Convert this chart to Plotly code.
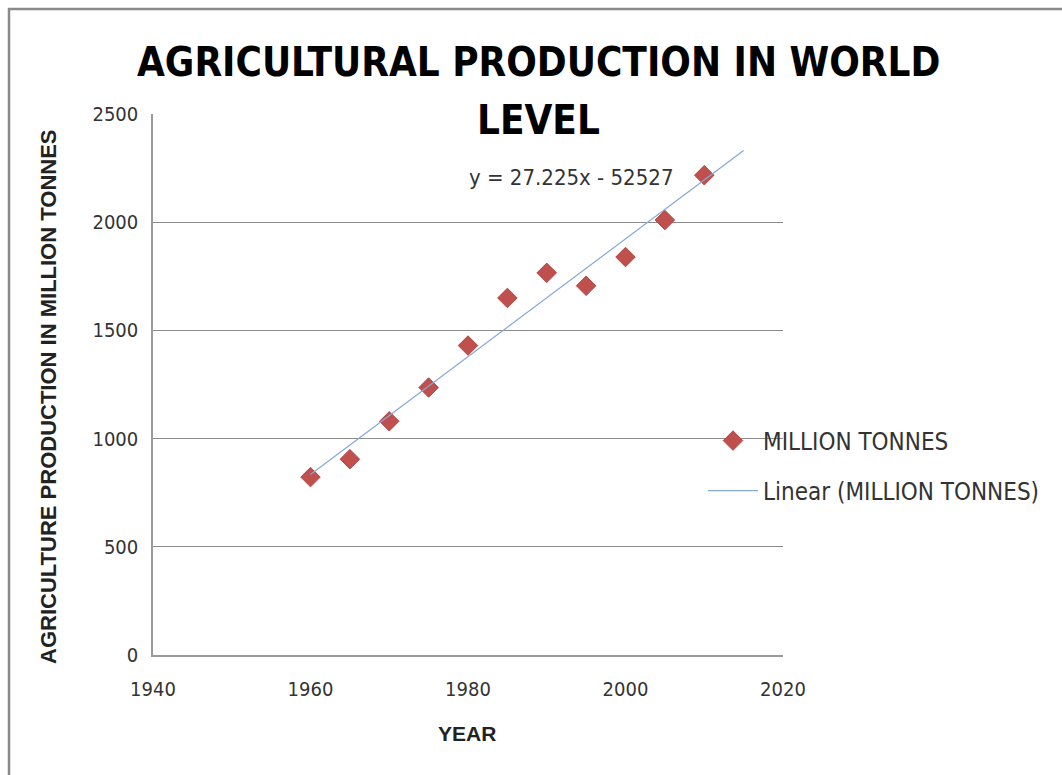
import plotly.graph_objects as go

# ---- data ----
years = [1960, 1965, 1970, 1975, 1980, 1985, 1990, 1995, 2000, 2005, 2010]
million_tonnes = [822, 905, 1080, 1236, 1430, 1650, 1766, 1706, 1839, 2010, 2217]

trend_slope = 27.225
trend_intercept = -52527
trend_years = [1960, 2015]
trend_values = [trend_slope * x + trend_intercept for x in trend_years]

x_ticks = [1940, 1960, 1980, 2000, 2020]
y_ticks = [0, 500, 1000, 1500, 2000, 2500]

title_lines = ["AGRICULTURAL PRODUCTION IN WORLD", "LEVEL"]
equation_text = "y = 27.225x - 52527"

NARROW = "DejaVu Sans Condensed, Liberation Sans Narrow, sans-serif"
WIDE = "Liberation Sans, Arial, sans-serif"

# pixel helpers for placing annotations (plot area 153..783 x, 114..655 y)
PL, PR, PT, PB = 153, 783, 114, 655
def px(x):
    return (x - PL) / (PR - PL)
def py(y):
    return (PB - y) / (PB - PT)

fig = go.Figure()

fig.add_trace(go.Scatter(
    x=years, y=million_tonnes, mode="markers", name="MILLION TONNES",
    marker=dict(symbol="diamond", size=15, color="#C0504D",
                line=dict(color="#B04643", width=1)),
    legend="legend",
))
fig.add_trace(go.Scatter(
    x=trend_years, y=trend_values, mode="lines", name="Linear (MILLION TONNES)",
    line=dict(color="#86A9D6", width=1.2),
    legend="legend2",
))

fig.update_layout(
    width=1062, height=775,
    margin=dict(l=PL, r=1062 - PR, t=PT, b=775 - PB),
    paper_bgcolor="white", plot_bgcolor="white",
    xaxis=dict(range=[1940, 2020], tickvals=x_ticks, showgrid=False,
               showline=True, linecolor="#9a9a9a", linewidth=1.5,
               ticks="", zeroline=False, ticklabelstandoff=15,
               tickfont=dict(family=NARROW, size=20, color="#333333")),
    yaxis=dict(range=[0, 2500], tickvals=y_ticks, showgrid=True,
               gridcolor="#8c8c8c", gridwidth=1,
               showline=True, linecolor="#9a9a9a", linewidth=1.5,
               ticks="", zeroline=False, ticklabelstandoff=9,
               tickfont=dict(family=NARROW, size=20, color="#333333")),
    legend=dict(x=px(703), xanchor="left", y=py(441), yanchor="middle",
                bgcolor="rgba(0,0,0,0)", borderwidth=0, itemwidth=50,
                font=dict(family=NARROW, size=24, color="#333333")),
    legend2=dict(x=px(703), xanchor="left", y=py(491), yanchor="middle",
                 bgcolor="rgba(0,0,0,0)", borderwidth=0, itemwidth=50,
                 font=dict(family=NARROW, size=24, color="#333333")),
    showlegend=True,
)

# title, two lines as in the reference
for txt, yc in zip(title_lines, [62, 120]):
    fig.add_annotation(text=txt, xref="paper", yref="paper", x=px(538), y=py(yc),
                       showarrow=False, xanchor="center", yanchor="middle",
                       font=dict(family=NARROW, size=40, color="#000000", weight="bold"))

# axis titles
fig.add_annotation(text="AGRICULTURE PRODUCTION IN MILLION TONNES", textangle=-90,
                   xref="paper", yref="paper", x=px(48), y=py(397),
                   showarrow=False, xanchor="center", yanchor="middle",
                   font=dict(family=WIDE, size=22, color="#222222", weight="bold"))
fig.add_annotation(text="YEAR", xref="paper", yref="paper", x=px(467), y=py(733),
                   showarrow=False, xanchor="center", yanchor="middle",
                   font=dict(family=WIDE, size=21, color="#222222", weight="bold"))

# trendline equation label
fig.add_annotation(text=equation_text, xref="paper", yref="paper",
                   x=px(571), y=py(177), showarrow=False,
                   xanchor="center", yanchor="middle",
                   font=dict(family=NARROW, size=22, color="#333333"))

# chart-area border (top and left visible in the reference)
fig.add_shape(type="rect", xref="paper", yref="paper",
              x0=px(9), x1=px(1200), y0=py(900), y1=py(9),
              line=dict(color="#8a8a8a", width=2.5), fillcolor="rgba(0,0,0,0)", layer="below")

fig.write_html("out.html")
